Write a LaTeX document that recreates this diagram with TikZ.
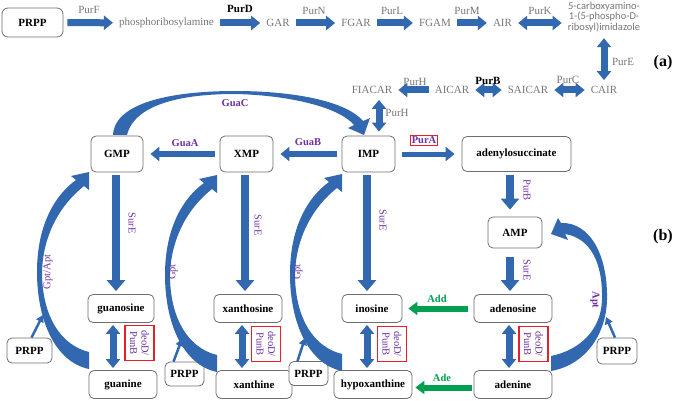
\documentclass[tikz,border=0pt]{standalone}
\usepackage{fontspec}
\setmainfont{Liberation Serif}
\newfontfamily\carlito{Carlito}
\usetikzlibrary{arrows.meta,positioning,calc}
\definecolor{pathblue}{RGB}{50,104,176}
\definecolor{enzpurple}{RGB}{112,48,160}
\definecolor{addgreen}{RGB}{0,160,80}
\definecolor{boxred}{RGB}{232,30,40}
\definecolor{textgray}{RGB}{118,118,118}
\definecolor{boxgray}{RGB}{110,110,110}

\tikzset{
  box/.style={draw=boxgray, line width=0.8pt, rounded corners=5pt, fill=white, font=\bfseries\fontsize{11}{13}\selectfont, inner sep=2pt},
  inter/.style={text=textgray, font=\fontsize{11}{13}\selectfont, inner sep=2pt},
  purlab/.style={text=textgray, font=\fontsize{11}{13}\selectfont, inner sep=1pt},
  enz/.style={text=enzpurple, font=\bfseries\fontsize{10.5}{12}\selectfont, inner sep=1pt},
  enzv/.style={text=enzpurple, font=\fontsize{10.5}{12}\selectfont, inner sep=1pt, rotate=-90},
  addlab/.style={text=addgreen, font=\bfseries\fontsize{10.5}{12}\selectfont, inner sep=1pt},
  redbox/.style={draw=boxred, line width=1.4pt, text=enzpurple, font=\fontsize{10.5}{11.5}\selectfont, align=center, inner sep=1pt, rotate=-90, minimum width=35pt, minimum height=29pt},
  flow/.style={draw=pathblue, line width=7pt, -{Triangle[width=14pt,length=9pt]}, shorten <=4pt, shorten >=4pt},
  dflow/.style={flow, {Triangle[width=14pt,length=9pt]}-{Triangle[width=14pt,length=9pt]}},
  sureflow/.style={flow, line width=8.5pt, -{Triangle[width=18pt,length=11pt]}, shorten <=3pt, shorten >=3pt},
  addflow/.style={flow, draw=addgreen, line width=6pt, -{Triangle[width=13pt,length=9pt]}},
  prppflow/.style={draw=pathblue, line width=2.5pt, -{Triangle[width=8pt,length=7pt]}},
  gptarc/.pic={
    \fill[pathblue] (89,369) .. controls (55,362) and (37,320) .. (37,272)
      .. controls (37,225) and (55,195) .. (76,180) -- (71,176) -- (89,172) -- (89,190) -- (84,186)
      .. controls (60,205) and (43,235) .. (42,272) .. controls (42,315) and (60,345) .. (89,352) -- cycle;
  }
}

\begin{document}
\begin{tikzpicture}[x=1pt,y=-1pt]
\useasboundingbox (0,0) rectangle (677,401);

% (a) de novo part
\node[box, minimum width=61pt, minimum height=29pt, rounded corners=6pt] (prpp0) at (32.5,22.5) {PRPP};
\node[inter] (pra) at (166.5,23) {phosphoribosylamine};
\node[inter] (gar) at (278,23) {GAR};
\node[inter] (fgar) at (356,23) {FGAR};
\node[inter] (fgam) at (435,23) {FGAM};
\node[inter] (air) at (502.5,23) {AIR};
\node[inter, font=\carlito\fontsize{10.5}{10.5}\selectfont, align=center] (cxair) at (604,17) {5-carboxyamino-\\1-(5-phospho-D-\\ribosyl)imidazole};
\node[inter] (cair) at (604,90) {CAIR};
\node[inter] (saicar) at (528,90) {SAICAR};
\node[inter] (aicar) at (452,90) {AICAR};
\node[inter] (fiacar) at (372,90) {FIACAR};

\draw[flow] (prpp0) -- (pra);
\draw[flow] (pra) -- (gar);
\draw[flow] (gar) -- (fgar);
\draw[flow] (fgar) -- (fgam);
\draw[flow] (fgam) -- (air);
\draw[dflow] (air.east) -- (air.east -| cxair.west);
\draw[dflow] (cxair) -- (cair);
\draw[dflow] (cair) -- (saicar);
\draw[dflow] (saicar) -- (aicar);
\draw[flow] (aicar) -- (fiacar);

\node[purlab] (purF) at (89,10) {PurF};
\node[purlab, text=black, font=\bfseries\fontsize{11}{13}\selectfont] (purD) at (240,9) {PurD};
\node[purlab] (purN) at (314,11) {PurN};
\node[purlab] (purL) at (392,11) {PurL};
\node[purlab] (purM) at (467,11) {PurM};
\node[purlab] (purK) at (540,11) {PurK};
\node[purlab] (purE) at (623,62) {PurE};
\node[purlab] (purC) at (568,80) {PurC};
\node[purlab, text=black, font=\bfseries\fontsize{11}{13}\selectfont] (purB1) at (488,81) {PurB};
\node[purlab] (purH1) at (415,82) {PurH};
\node[purlab] (purH2) at (397,113) {PurH};
\node[font=\bfseries\fontsize{16}{18}\selectfont] (parta) at (663,63) {(a)};

% (b) salvage part
\node[box, minimum width=52pt, minimum height=36pt] (gmp) at (117,154) {GMP};
\node[box, minimum width=53pt, minimum height=36pt] (xmp) at (246.5,154) {XMP};
\node[box, minimum width=53pt, minimum height=36pt] (imp) at (368.5,154) {IMP};
\node[box, minimum width=109pt, minimum height=35pt] (adsucc) at (516.5,154) {adenylosuccinate};
\node[box, minimum width=54pt, minimum height=31pt] (amp) at (515,232.5) {AMP};
\node[box, minimum width=66pt, minimum height=28pt] (guanosine) at (121,308.5) {guanosine};
\node[box, minimum width=68pt, minimum height=28pt] (xanthosine) at (248,308.5) {xanthosine};
\node[box, minimum width=60pt, minimum height=28pt] (inosine) at (372,308.5) {inosine};
\node[box, minimum width=78pt, minimum height=28pt] (adenosine) at (513,308.5) {adenosine};
\node[box, minimum width=68pt, minimum height=28pt] (guanine) at (123,384.5) {guanine};
\node[box, minimum width=76pt, minimum height=28pt] (xanthine) at (254,384.5) {xanthine};
\node[box, minimum width=78pt, minimum height=28pt] (hypox) at (373,384.5) {hypoxanthine};
\node[box, minimum width=78pt, minimum height=28pt] (adenine) at (513,384.5) {adenine};
\node[box, minimum width=45pt, minimum height=25pt] (prppL) at (29.5,350.5) {PRPP};
\node[box, minimum width=39pt, minimum height=24pt] (prppX) at (184.5,374) {PRPP};
\node[box, minimum width=39pt, minimum height=24pt] (prppI) at (308.5,373.5) {PRPP};
\node[box, minimum width=40pt, minimum height=26pt] (prppR) at (617,351) {PRPP};

\draw[dflow] ([xshift=7pt]fiacar.south) -- ([xshift=7pt]fiacar.south |- imp.north);

% curved salvage arrows
\fill[pathblue] (113,135) .. controls (115,100) and (180,91) .. (235,91) .. controls (290,91) and (345,100) .. (363,121)
  -- (370,118) -- (364,135) -- (348,128) -- (354,125) .. controls (338,106) and (285,95) .. (235,94)
  .. controls (185,94) and (135,103) .. (127,135) -- cycle;
\pic at (0,0) {gptarc};
\pic at (128,3) {gptarc};
\pic at (253,2) {gptarc};
\fill[pathblue] (551,371) .. controls (585,365) and (606,335) .. (607,300) .. controls (608,255) and (590,222) .. (561,223)
  -- (558,218) -- (551,234) -- (568,240) -- (565,234) .. controls (590,238) and (603,262) .. (602,300)
  .. controls (601,330) and (580,350) .. (551,356) -- cycle;

\coordinate (arcL) at (43,315);
\coordinate (arcX) at (182,339);
\coordinate (arcI) at (305,338);
\coordinate (arcR) at (606,317);
\draw[prppflow] ([xshift=2pt]prppL.north) -- (arcL);
\draw[prppflow] ([xshift=-11pt]prppX.north) -- (arcX);
\draw[prppflow] ([xshift=-11pt]prppI.north) -- (arcI);
\draw[prppflow] ([xshift=-2pt]prppR.north) -- (arcR);

% straight salvage arrows
\draw[flow, line width=6pt, shorten <=5pt, shorten >=7pt] (xmp) -- (gmp);
\draw[flow, line width=6pt, shorten <=5pt, shorten >=7pt] (imp) -- (xmp);
\draw[flow, line width=5pt, shorten <=7pt, shorten >=7pt] (imp) -- (adsucc);
\draw[sureflow] ([xshift=-1pt]gmp.south) -- ([xshift=-1pt]gmp.south |- guanosine.north);
\draw[sureflow] ([xshift=-1.5pt]xmp.south) -- ([xshift=-1.5pt]xmp.south |- xanthosine.north);
\draw[sureflow] ([xshift=-1.5pt]imp.south) -- ([xshift=-1.5pt]imp.south |- inosine.north);
\draw[sureflow, line width=8pt, shorten >=7pt] ([xshift=-6.5pt]adsucc.south) -- ([xshift=-6.5pt]adsucc.south |- amp.north);
\draw[sureflow, line width=8pt, shorten <=9pt] ([xshift=-5pt]amp.south) -- ([xshift=-5pt]amp.south |- adenosine.north);
\draw[dflow, shorten <=2pt, shorten >=2pt] ([xshift=-8pt]guanosine.south) -- ([xshift=-8pt]guanosine.south |- guanine.north);
\draw[dflow, shorten <=2pt, shorten >=2pt] ([xshift=-6pt]xanthosine.south) -- ([xshift=-6pt]xanthosine.south |- xanthine.north);
\draw[dflow, shorten <=2pt, shorten >=2pt] ([xshift=-5pt]inosine.south) -- ([xshift=-5pt]inosine.south |- hypox.north);
\draw[dflow, shorten <=2pt, shorten >=2pt] ([xshift=-4pt]adenosine.south) -- ([xshift=-4pt]adenosine.south |- adenine.north);
\draw[addflow, shorten <=6pt, shorten >=6pt] (adenosine) -- (inosine);
\draw[addflow, shorten <=2pt, shorten >=3pt] ([yshift=-3pt]adenine.west) -- ([yshift=-3pt]adenine.west -| hypox.east);

% enzyme labels
\node[enz] (guaC) at (235,103) {GuaC};
\node[enz] (guaA) at (185,143) {GuaA};
\node[enz] (guaB) at (308,142) {GuaB};
\node[enz, draw=boxred, line width=1.4pt, inner sep=1.5pt] (purA) at (424,140.5) {PurA};
\node[enzv] (purB2) at (527,190) {PurB};
\node[enzv] (surE1) at (132,223) {SurE};
\node[enzv] (surE2) at (258,225) {SurE};
\node[enzv] (surE3) at (383,220) {SurE};
\node[enzv] (surE4) at (527,270) {SurE};
\node[enzv, rotate=180] (gptApt) at (48,272) {Gpt/Apt};
\node[enzv, rotate=180] (gpt1) at (173,272) {Gpt};
\node[enzv, rotate=180] (gpt2) at (298,272) {Gpt};
\node[enzv, font=\bfseries\fontsize{10.5}{12}\selectfont] (apt) at (595,300) {Apt};
\node[redbox] (punG) at (139.5,343) {deoD/\\PunB};
\node[redbox] (punX) at (266,344) {deoD/\\PunB};
\node[redbox] (punI) at (392,344) {deoD/\\PunB};
\node[redbox] (punA) at (533.5,344) {deoD/\\PunB};
\node[addlab] (add) at (437,299) {Add};
\node[addlab] (ade) at (442,378) {Ade};
\node[font=\bfseries\fontsize{16}{18}\selectfont] (partb) at (663,237) {(b)};
\end{tikzpicture}
\end{document}
